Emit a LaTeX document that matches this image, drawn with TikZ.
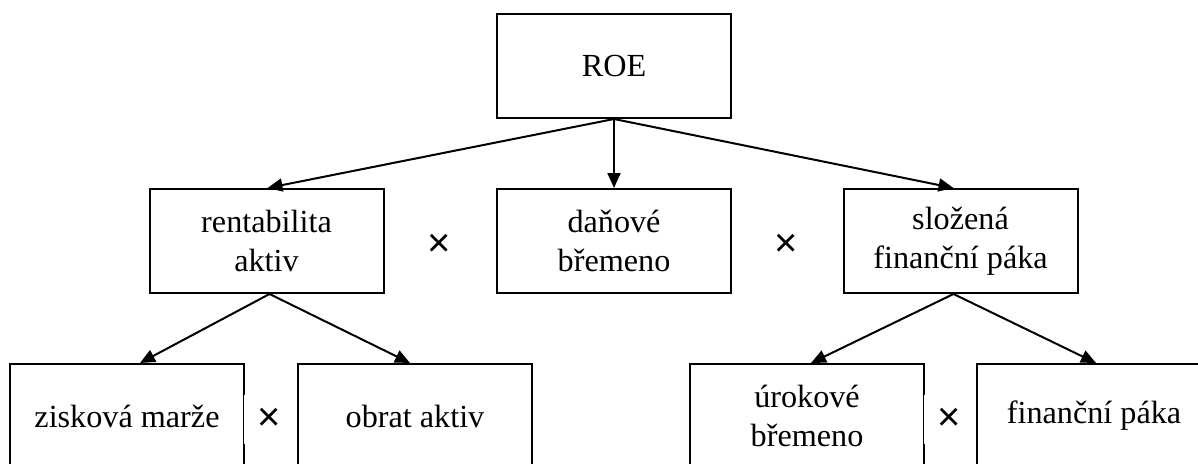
\documentclass[tikz,border=0pt]{standalone}
\usepackage{fontspec}
\setmainfont{Liberation Serif}
\newfontfamily\symfont{Liberation Sans}
\usetikzlibrary{arrows.meta,calc}
\begin{document}
\begin{tikzpicture}[x=1pt,y=-1pt,
  box/.style={draw,line width=2pt,minimum width=234pt,minimum height=104pt,
    inner sep=0pt,align=center,font=\fontsize{32.2}{38.6}\selectfont},
  link/.style={line width=2pt,-{Triangle[length=15pt,width=13pt]}},
  times/.style={font=\symfont\fontsize{40}{44}\selectfont,inner sep=0pt},
  timescover/.style={times,fill=white,minimum width=50pt,minimum height=49pt}]
\useasboundingbox[fill=white] (0,0) rectangle (1198,463);
\clip (0,0) rectangle (1198,463);

% top level
\node[box] (roe) at (614,66) {ROE};

% second level
\node[box] (rent) at (266.5,241) {rentabilita\\aktiv};
\node[box] (dan)  at (614,241) {daňové\\břemeno};
\node[box] (slo)  at (960.5,241) {složená\\finanční páka};
\node[times] (x1) at (439,245) {×};
\node[times] (x2) at (786,245) {×};

% third level
\node[box] (zisk) at (127,416) {zisková marže};
\node[timescover] (x3) at (269,419) {×};
\node[box] (obrat) at (415,416) {obrat aktiv};
\node[box] (urok) at (807,416) {úrokové\\břemeno};
\node[timescover] (x4) at (949,419) {×};
\node[box] (fin) at (1094,416) {finanční páka};

% connectors
\draw[link] (roe.south) -- ($(rent.north)+(1,0)$);
\draw[link] (roe.south) -- (dan.north);
\draw[link] (roe.south) -- ($(slo.north)+(-7,0)$);
\draw[link] ($(rent.south)+(3,0)$) -- ($(zisk.north)+(13,0)$);
\draw[link] ($(rent.south)+(3,0)$) -- ($(obrat.north)+(-5,0)$);
\draw[link] ($(slo.south)+(-7,0)$) -- ($(urok.north)+(4,0)$);
\draw[link] ($(slo.south)+(-7,0)$) -- ($(fin.north)+(2,0)$);
\end{tikzpicture}
\end{document}
